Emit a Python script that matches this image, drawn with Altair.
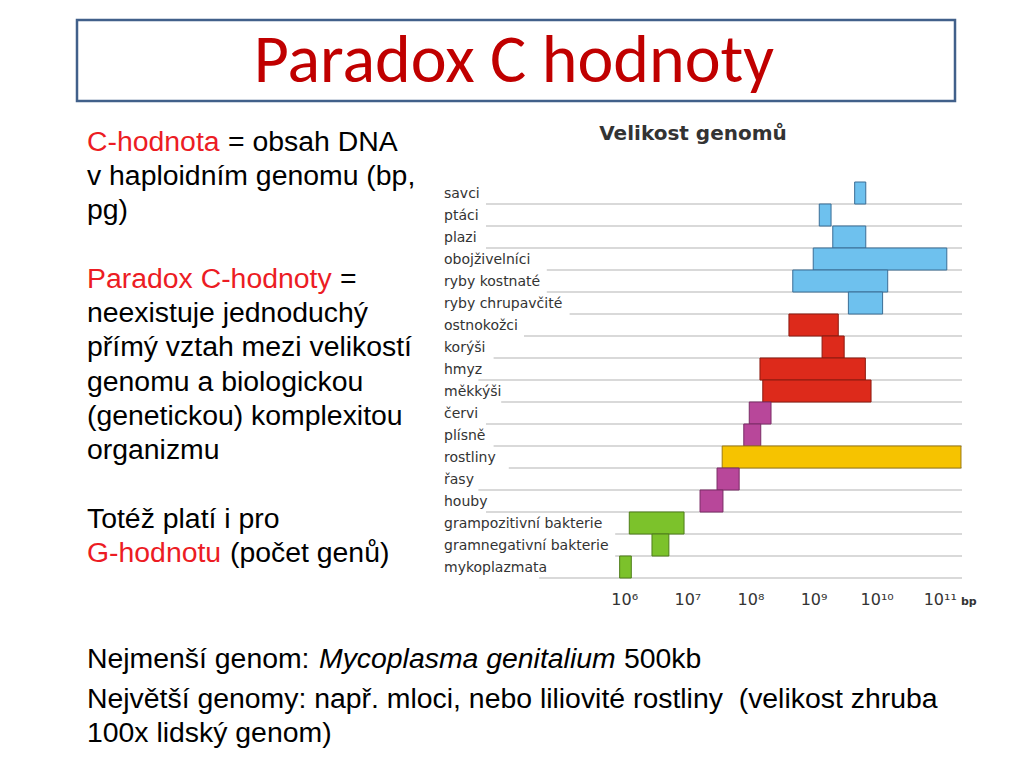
import altair as alt
import pandas as pd

# ---- data ----
categories = ["savci", "ptáci", "plazi", "obojživelníci", "ryby kostnaté",
              "ryby chrupavčité", "ostnokožci", "korýši", "hmyz", "měkkýši",
              "červi", "plísně", "rostliny", "řasy", "houby",
              "grampozitivní bakterie", "gramnegativní bakterie", "mykoplazmata"]
genome_min = [4.4e9, 1.21e9, 1.98e9, 9.7e8, 4.6e8,
              3.5e9, 4.0e8, 1.34e9, 1.39e8, 1.54e8,
              9.4e7, 7.7e7, 3.5e7, 2.9e7, 1.56e7,
              1.18e6, 2.7e6, 8.3e5]
genome_max = [6.6e9, 1.86e9, 6.6e9, 1.27e11, 1.47e10,
              1.22e10, 2.42e9, 3.0e9, 6.5e9, 8.0e9,
              2.08e8, 1.43e8, 2.13e11, 6.5e7, 3.6e7,
              8.7e6, 5.0e6, 1.27e6]
groups = ["obratlovci"] * 6 + ["bezobratlí"] * 4 + ["protista"] * 2 + ["rostliny"] + \
         ["protista"] * 2 + ["bakterie"] * 3
tick_values = [1e6, 1e7, 1e8, 1e9, 1e10, 1e11]
tick_labels = ["10⁶", "10⁷", "10⁸", "10⁹", "10¹⁰", "10¹¹"]

group_domain = ["obratlovci", "bezobratlí", "protista", "rostliny", "bakterie"]
fill_range = ["#6ec1ee", "#dd2a1b", "#b8479a", "#f6c300", "#7cc22b"]
stroke_range = ["#3b6e96", "#8c1a10", "#7a2c66", "#9c7a10", "#4e7d1a"]

df = pd.DataFrame({"label": categories, "lo": genome_min, "hi": genome_max, "group": groups})
ticks = pd.DataFrame({"v": tick_values, "lab": tick_labels})
one = pd.DataFrame({"k": [0]})

W, H = 1008, 752
def P(v):  # page pixel -> view pixel (page has 8px margin)
    return v - 8

xscale = alt.Scale(type="log", domain=[1366, 2.211e11], range=[P(444), P(962)], nice=False)
yscale = alt.Scale(domain=categories, range=[P(182), P(578)], paddingInner=0, paddingOuter=0)

LABEL_FONT = "DejaVu Sans"
TEXT_FONT = "Liberation Sans, Arial, sans-serif"

grid = alt.Chart(df).transform_calculate(
    gx=f"{P(444)} + length(datum.label) * 7.6 + 4"
).mark_rule(color="#d9d9d9", strokeWidth=2).encode(
    y=alt.Y("label:N", sort=categories, scale=yscale, axis=None, bandPosition=1),
    x=alt.X("gx:Q", scale=None),
    x2=alt.value(P(962)),
)

bars = alt.Chart(df).mark_bar(strokeWidth=1).encode(
    y=alt.Y("label:N", sort=categories, scale=yscale, axis=None),
    x=alt.X("lo:Q", scale=xscale, axis=None),
    x2="hi:Q",
    color=alt.Color("group:N", scale=alt.Scale(domain=group_domain, range=fill_range), legend=None),
    stroke=alt.Stroke("group:N", scale=alt.Scale(domain=group_domain, range=stroke_range), legend=None),
)

ylabels = alt.Chart(df).mark_text(align="left", baseline="alphabetic", dy=5,
                                  font=LABEL_FONT, fontSize=14, color="#333333").encode(
    y=alt.Y("label:N", sort=categories, scale=yscale, axis=None),
    x=alt.value(P(444)),
    text="label:N",
)

xlabels = alt.Chart(ticks).mark_text(align="center", baseline="alphabetic",
                                     font=LABEL_FONT, fontSize=16, color="#333333").encode(
    x=alt.X("v:Q", scale=xscale, axis=None),
    y=alt.value(P(605)),
    text="lab:N",
)

def txt(s, x, y, color="#000000", size=28.4, font=TEXT_FONT, weight="normal", style="normal", align="left"):
    return alt.Chart(one).mark_text(align=align, baseline="alphabetic", font=font, fontSize=size,
                                    fontWeight=weight, fontStyle=style, color=color).encode(
        x=alt.value(P(x)), y=alt.value(P(y)), text=alt.value(s))

bp = txt("bp", 961, 605, color="#333333", size=11, font=LABEL_FONT, weight="bold")
chart_title = txt("Velikost genomů", 693, 140, color="#333333", size=20, font=LABEL_FONT,
                  weight="bold", align="center")

title_box = alt.Chart(one).mark_rect(fill="white", stroke="#41608a", strokeWidth=2.5).encode(
    x=alt.value(P(77)), x2=alt.value(P(955)), y=alt.value(P(20)), y2=alt.value(P(101)))
slide_title = txt("Paradox C hodnoty", 514, 82, color="#c00000", size=68,
                  font="Carlito, Lato, sans-serif", align="center")

RED = "#ec1c24"
left = [
    txt("C-hodnota", 87, 150.5, RED), txt("= obsah DNA", 228, 150.5),
    txt("v haploidním genomu (bp,", 87, 184.8),
    txt("pg)", 87, 219),
    txt("Paradox C-hodnoty", 87, 287.7, RED), txt("=", 340, 287.7),
    txt("neexistuje jednoduchý", 87, 322),
    txt("přímý vztah mezi velikostí", 87, 356.3),
    txt("genomu a biologickou", 87, 390.6),
    txt("(genetickou) komplexitou", 87, 424.9),
    txt("organizmu", 87, 459.2),
    txt("Totéž platí i pro", 87, 527.8),
    txt("G-hodnotu", 87, 562, RED), txt("(počet genů)", 230, 562),
]
bottom = [
    txt("Nejmenší genom:", 87, 668),
    txt("Mycoplasma genitalium", 319, 668, style="italic"),
    txt("500kb", 624, 668),
    txt("Největší genomy: např. mloci, nebo liliovité rostliny\u00a0 (velikost zhruba", 87, 708),
    txt("100x lidský genom)", 87, 742),
]

chart = alt.layer(
    title_box, slide_title, chart_title, grid, bars, ylabels, xlabels, bp, *left, *bottom
).resolve_scale(x="independent").properties(
    width=W, height=H, padding=0, autosize="none", background="white"
).configure_view(stroke=None)

chart.save("out.html", embed_options={"renderer": "svg", "actions": False})
